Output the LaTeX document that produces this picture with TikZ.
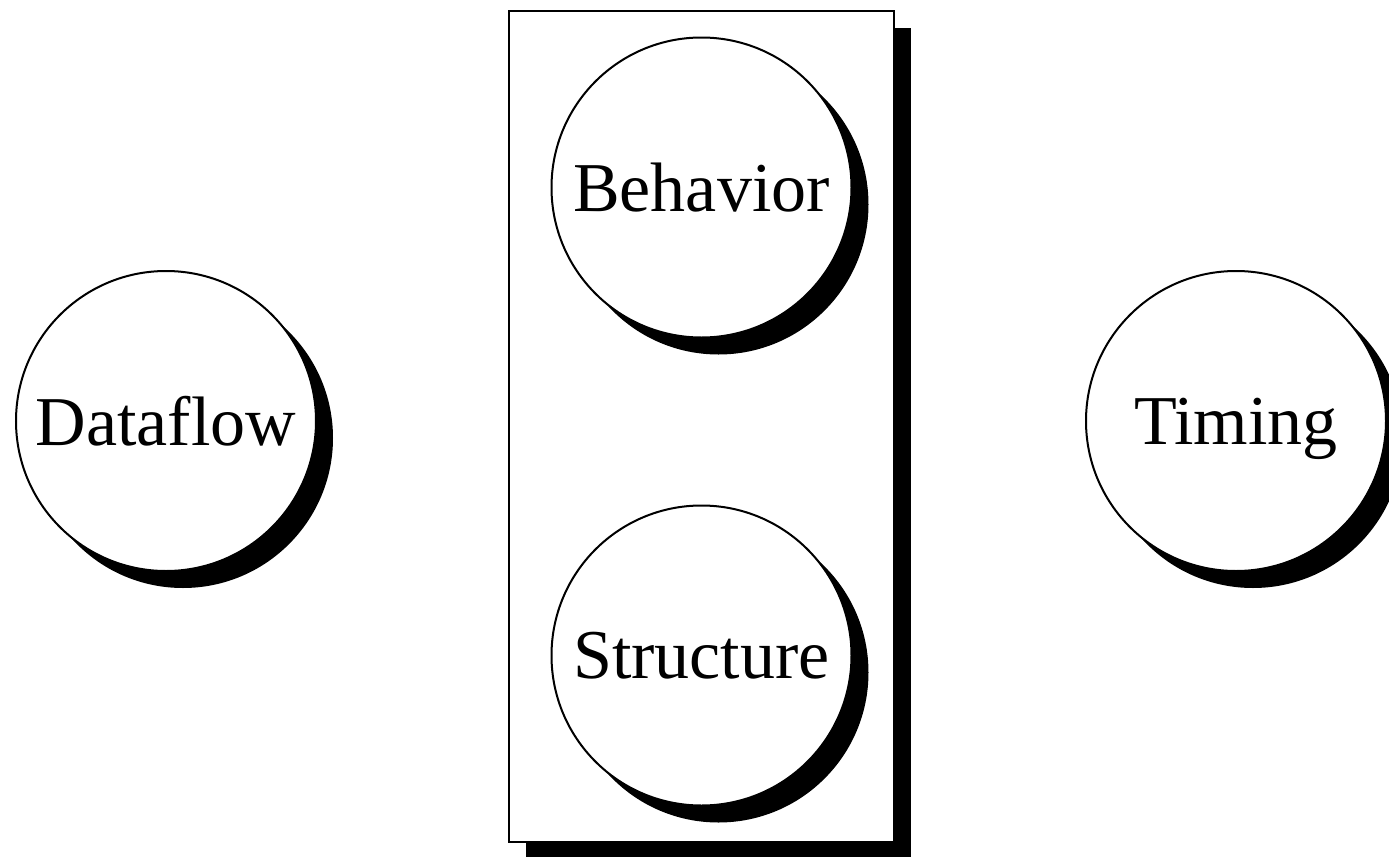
\documentclass[tikz,border=0pt]{standalone}
\usepackage{fontspec}
\setmainfont{Liberation Serif}
\usetikzlibrary{positioning,shadows}

\tikzset{
  hardshadow/.style={drop shadow={shadow xshift=8.5pt, shadow yshift=-8.5pt, opacity=1, fill=black}},
  view/.style={circle, draw, line width=1pt, fill=white, minimum size=150pt, inner sep=0pt,
    text depth=0pt, font=\fontsize{35}{40}\selectfont, hardshadow},
  frame/.style={rectangle, draw, line width=1pt, fill=white, minimum width=192.5pt,
    minimum height=415.5pt, inner sep=0pt, hardshadow}
}

\begin{document}
\begin{tikzpicture}[x=0.5pt, y=-0.5pt]
	\useasboundingbox (0,0) rectangle (1389,857);

	\node (domain) at (701.5,426) [frame] {};
	\node (behavior) at (domain.north) [view, below=13.5pt] {Behavior};
	\node (structure) at (domain.south) [view, above=18pt] {Structure};

	\node (dataflow) at (166,421) [view] {Dataflow};
	\node (timing) at (1236,421) [view] {Timing};
\end{tikzpicture}
\end{document}
